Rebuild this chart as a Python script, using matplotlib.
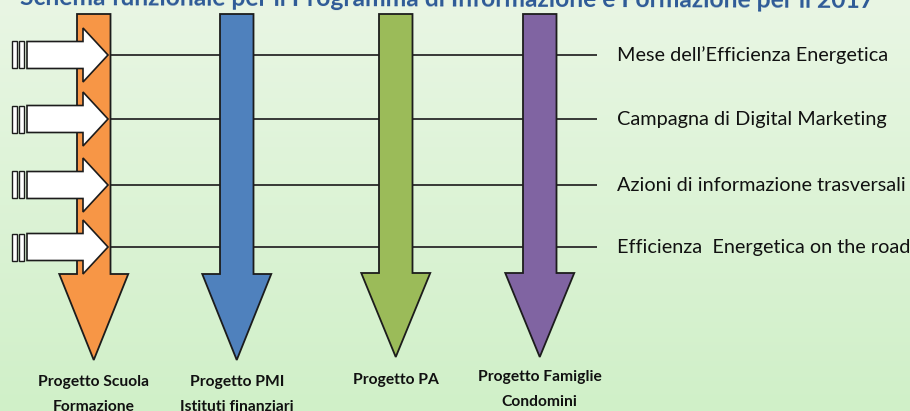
import numpy as np
import matplotlib
matplotlib.use("Agg")
import matplotlib.pyplot as plt
from matplotlib.patches import Polygon, Rectangle

# ---------------- data ----------------
title = "Schema funzionale per il Programma di Informazione e Formazione per il 2017"
projects = ["Progetto Scuola\nFormazione", "Progetto PMI\nIstituti finanziari",
            "Progetto PA", "Progetto Famiglie\nCondomini"]
project_colors = ["#F79646", "#4F81BD", "#9BBB59", "#8064A2"]
channels = ["Mese dell\u2019Efficienza Energetica", "Campagna di Digital Marketing",
            "Azioni di informazione trasversali", "Efficienza  Energetica on the road"]

# ---------------- layout (pixels) ----------------
W, H = 910, 411
shaft_left = [77, 220, 379, 523]
shaft_w = 33.5
shaft_top = 14
head_base = [274, 274, 273, 273]
tip_y = [360, 360, 357, 357]
head_half = 34.5
channel_y = [55, 119, 185, 247]
line_x0, line_x1 = 100, 597
label_x = 617
label_top_y = [382, 382, 380, 377]
label_gap = 25

FONT = ["Lato", "DejaVu Sans"]
edge = "#1c1c1c"

fig = plt.figure(figsize=(W / 100, H / 100), dpi=100)
ax = fig.add_axes([0, 0, 1, 1])
ax.set_xlim(0, W)
ax.set_ylim(H, 0)
ax.axis("off")

# background gradient
top = np.array([233, 246, 228]) / 255
bot = np.array([208, 240, 200]) / 255
t = np.linspace(0, 1, 256)[:, None]
grad = (top[None, :] * (1 - t) + bot[None, :] * t)[:, None, :]
ax.imshow(grad, extent=[0, W, H, 0], aspect="auto", zorder=0)

# horizontal channel lines
for y in channel_y:
    ax.plot([line_x0, line_x1], [y, y], color="#2a2a2a", lw=1.3, zorder=1,
            solid_capstyle="butt")

# big downward arrows
for xl, hb, ty, c in zip(shaft_left, head_base, tip_y, project_colors):
    xr = xl + shaft_w
    cx = (xl + xr) / 2
    pts = [(xl, shaft_top), (xr, shaft_top), (xr, hb), (cx + head_half, hb),
           (cx, ty), (cx - head_half, hb), (xl, hb)]
    ax.add_patch(Polygon(pts, closed=True, facecolor=c, edgecolor=edge,
                         lw=1.3, joinstyle="miter", zorder=2))

# white striped arrows on the left
for y in channel_y:
    bh, hh = 13.5, 27
    body_x0, head_x, tip_x = 27, 83, 108
    pts = [(body_x0, y - bh), (head_x, y - bh), (head_x, y - hh), (tip_x, y),
           (head_x, y + hh), (head_x, y + bh), (body_x0, y + bh)]
    ax.add_patch(Polygon(pts, closed=True, facecolor="white", edgecolor=edge,
                         lw=1.2, joinstyle="miter", zorder=3))
    for sx, sw in [(12, 4.5), (18.5, 5.5)]:
        ax.add_patch(Rectangle((sx, y - bh), sw, 2 * bh, facecolor="white",
                               edgecolor=edge, lw=1.0, zorder=3))

fig.canvas.draw()
renderer = fig.canvas.get_renderer()


def fit(txt, target_w):
    w = txt.get_window_extent(renderer).width
    txt.set_fontsize(txt.get_fontsize() * target_w / w)


# title
tt = ax.text(447, 6, title, ha="center", va="baseline", fontsize=14,
             fontweight="bold", color="#2E5A97", family=FONT, rotation=-0.2,
             rotation_mode="anchor", zorder=5)
fit(tt, 860)

# channel labels
ch_targets = [270, 267, 288, 292]
sizes = []
ch_texts = []
for y, s, tw in zip(channel_y, channels, ch_targets):
    txt = ax.text(label_x, y, s, ha="left", va="center", fontsize=12,
                  color="#111111", family=FONT, zorder=5)
    sizes.append(12 * tw / txt.get_window_extent(renderer).width)
    ch_texts.append(txt)
fs = float(np.mean(sizes))
for txt in ch_texts:
    txt.set_fontsize(fs)

# project labels
proj_sizes = []
proj_texts = []
first_line_targets = [112, 94, 85, 123]
for xl, ly, lab, tw in zip(shaft_left, label_top_y, projects, first_line_targets):
    cx = xl + shaft_w / 2
    lines = lab.split("\n")
    group = []
    for i, ln in enumerate(lines):
        txt = ax.text(cx, ly + i * label_gap, ln, ha="center", va="center",
                      fontsize=10, fontweight="bold", color="#111111",
                      family=FONT, zorder=5)
        group.append(txt)
    proj_sizes.append(10 * tw / group[0].get_window_extent(renderer).width)
    proj_texts.extend(group)
pfs = float(np.mean(proj_sizes))
for txt in proj_texts:
    txt.set_fontsize(pfs)

fig.savefig("out.png", dpi=100)
